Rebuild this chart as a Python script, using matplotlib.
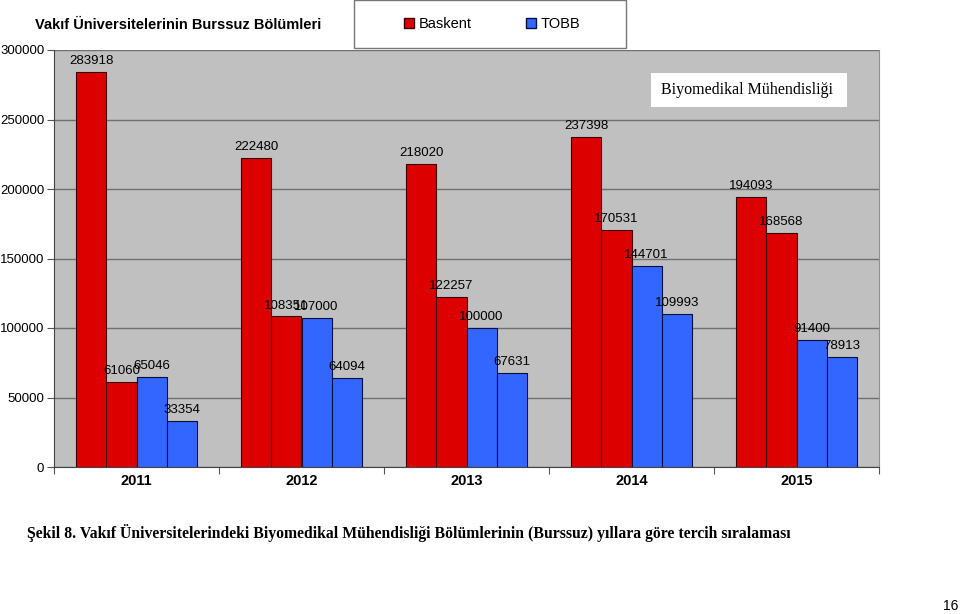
#import necessary modules
import numpy as np
import matplotlib
matplotlib.use('Agg')
import matplotlib.pyplot as plt
from matplotlib.patches import Patch, Rectangle

plt.rcParams['font.family'] = ['Liberation Sans', 'DejaVu Sans']

#chart data: two Baskent bars and two TOBB bars per year
years     = ['2011', '2012', '2013', '2014', '2015']
baskent_a = [283918, 222480, 218020, 237398, 194093]
baskent_b = [61060, 108351, 122257, 170531, 168568]
tobb_a    = [65046, 107000, 100000, 144701, 91400]
tobb_b    = [33354, 64094, 67631, 109993, 78913]
series_names = ['Baskent', 'TOBB']
yticks    = np.arange(0, 300001, 50000)

red  = '#dd0000'
blue = '#3366ff'

#define figure; add axes
fig = plt.figure(figsize=(9.6, 6.14), dpi=100)
ax  = fig.add_axes([54/960, 1-467/614, 825/960, 417/614])
ax.set_facecolor('#c0c0c0')

#draw bars
x = np.arange(len(years))
w = 0.183
groups = [(baskent_a, red), (baskent_b, red), (tobb_a, blue), (tobb_b, blue)]
for i, (vals, col) in enumerate(groups):
    bars = ax.bar(x + (i - 1.5)*w, vals, w, color=col, edgecolor='#3a0000' if col == red else '#001040',
                  linewidth=0.8, zorder=3)
    for b, v in zip(bars, vals):
        ax.annotate(str(v), (b.get_x() + b.get_width()/2, v), xytext=(0, 3.5), textcoords='offset points',
                    ha='center', va='bottom', fontsize=9.5, zorder=4)

#axes styling
ax.set_xlim(-0.5, len(years) - 0.5)
ax.set_ylim(0, 300000)
ax.set_yticks(yticks)
ax.set_yticklabels([str(t) for t in yticks], fontsize=9.5)
ax.yaxis.grid(True, color='#707070', linewidth=1, zorder=0)
ax.set_xticks(np.arange(-0.5, len(years)), labels=[''] * (len(years) + 1))
ax.set_xticks(x, minor=True)
ax.set_xticklabels(years, minor=True, fontsize=10.5, fontweight='bold')
ax.tick_params(axis='x', which='minor', length=0, pad=5)
ax.tick_params(axis='x', which='major', length=5, color='#555555')
ax.tick_params(axis='y', length=5, color='#555555', pad=2)
for s in ['left', 'bottom']:
    ax.spines[s].set_color('#444444')
ax.spines['top'].set_visible(False)
ax.spines['right'].set_color('#909090')

#legend box at top
fig.patches.append(Rectangle((354/960, 1-48/614), 272/960, 48/614, transform=fig.transFigure,
                             facecolor='white', edgecolor='#777777', linewidth=1))
handles = [Patch(facecolor=red, edgecolor='#3a0000'), Patch(facecolor=blue, edgecolor='#001040')]
fig.legend(handles, series_names, loc='center', bbox_to_anchor=(492/960, 1-24/614), ncol=2,
           frameon=False, fontsize=10.5, handlelength=0.7, handleheight=0.7, handletextpad=0.3,
           columnspacing=3.7)

#title
fig.text(35/960, 1-25/614, 'Vakıf Üniversitelerinin Burssuz Bölümleri', fontsize=10.5,
         fontweight='bold', va='center', ha='left')

#inner label box
fig.patches.append(Rectangle((651/960, 1-107/614), 196/960, 34/614, transform=fig.transFigure,
                             facecolor='white', edgecolor='none', zorder=5))
fig.text(747/960, 1-90/614, 'Biyomedikal Mühendisliği', fontsize=11.5, family='Liberation Serif',
         ha='center', va='center', zorder=6)

#caption and page number
fig.text(27/960, 1-533/614,
         'Şekil 8. Vakıf Üniversitelerindeki Biyomedikal Mühendisliği Bölümlerinin (Burssuz) yıllara göre tercih sıralaması',
         fontsize=11.3, fontweight='bold', family='Liberation Serif', ha='left', va='center')
fig.text(958/960, 1-606/614, '16', fontsize=10, ha='right', va='center')

#save figure
plt.savefig('out.png', dpi=100)
